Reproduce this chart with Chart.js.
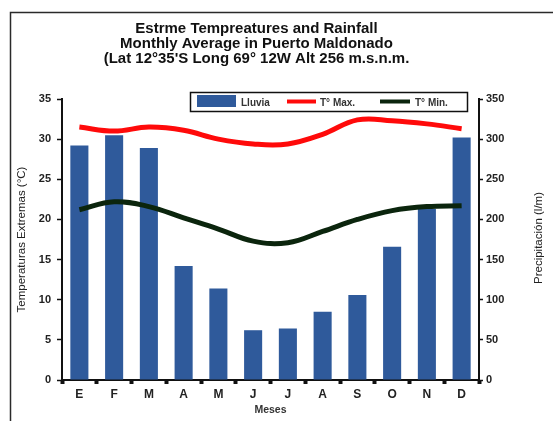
<!DOCTYPE html>
<html>
<head>
<meta charset="utf-8">
<script src="https://cdn.jsdelivr.net/npm/chart.js@4.4.1/dist/chart.umd.min.js"></script>
<style>
  html, body { margin: 0; padding: 0; background: #ffffff; }
  #wrap { width: 553px; height: 421px; }
</style>
</head>
<body>
<div id="wrap"><canvas id="c" width="553" height="421"></canvas></div>
<script>
const months = ['E', 'F', 'M', 'A', 'M', 'J', 'J', 'A', 'S', 'O', 'N', 'D'];
const lluvia = [292, 305, 289, 142, 114, 62, 64, 85, 106, 166, 213, 302];
const tMax = [31.5, 31.0, 31.5, 31.1, 30.0, 29.4, 29.4, 30.6, 32.4, 32.3, 31.9, 31.3];
const tMin = [21.2, 22.2, 21.6, 20.2, 18.8, 17.3, 17.1, 18.5, 20.0, 21.1, 21.6, 21.7];
const titleLines = ['Estrme Tempreatures and Rainfall', 'Monthly Average in Puerto Maldonado', '(Lat 12°35\'S Long 69° 12W Alt 256 m.s.n.m.'];
const legendLabels = ['Lluvia', 'T° Max.', 'T° Min.'];
const leftTitle = 'Temperaturas Extremas (°C)';
const rightTitle = 'Precipitación (l/m)';
const xTitle = 'Meses';

const FONT = '"Liberation Sans", Arial, sans-serif';
const BLUE = '#2F5A9B';
const RED = '#FF0A0A';
const DARK = '#0B250D';

const decor = {
  id: 'decor',
  afterLayout(chart) {
    if (chart.titleBlock) { chart.titleBlock.left -= 26; chart.titleBlock.right -= 26; }
  },
  beforeDraw(chart) {
    const ctx = chart.ctx;
    ctx.save();
    ctx.fillStyle = '#ffffff';
    ctx.fillRect(0, 0, chart.width, chart.height);
    ctx.strokeStyle = '#2a2a2a';
    ctx.lineWidth = 1.5;
    ctx.strokeRect(10.5, 12.5, 800, 800);
    ctx.restore();
  },
  afterDraw(chart) {
    const ctx = chart.ctx;
    ctx.save();
    // legend box
    ctx.fillStyle = '#ffffff';
    ctx.fillRect(190, 92, 277, 19);
    ctx.strokeStyle = '#111';
    ctx.lineWidth = 1.5;
    ctx.strokeRect(190.5, 92.5, 277, 19);
    ctx.fillStyle = BLUE;
    ctx.fillRect(197, 95, 39, 12);
    ctx.strokeStyle = RED; ctx.lineWidth = 4;
    ctx.beginPath(); ctx.moveTo(287, 101.5); ctx.lineTo(316, 101.5); ctx.stroke();
    ctx.strokeStyle = DARK;
    ctx.beginPath(); ctx.moveTo(380, 101.5); ctx.lineTo(410, 101.5); ctx.stroke();
    ctx.fillStyle = '#333';
    ctx.font = 'bold 10px ' + FONT;
    ctx.textBaseline = 'middle';
    ctx.textAlign = 'left';
    ctx.fillText(legendLabels[0], 241, 103);
    ctx.fillText(legendLabels[1], 320, 103);
    ctx.fillText(legendLabels[2], 415, 103);
    // right axis title (reads bottom to top)
    ctx.translate(539, 238);
    ctx.rotate(-Math.PI / 2);
    ctx.font = '11.5px ' + FONT;
    ctx.fillStyle = '#222';
    ctx.textAlign = 'center';
    ctx.fillText(rightTitle, 0, 0);
    ctx.restore();
  }
};

new Chart(document.getElementById('c'), {
  type: 'bar',
  data: {
    labels: months,
    datasets: [
      { type: 'line', label: legendLabels[1], data: tMax, yAxisID: 'y', borderColor: RED, backgroundColor: RED,
        borderWidth: 5, tension: 0.4, pointRadius: 0, order: 1 },
      { type: 'line', label: legendLabels[2], data: tMin, yAxisID: 'y', borderColor: DARK, backgroundColor: DARK,
        borderWidth: 5, tension: 0.4, pointRadius: 0, order: 2 },
      { type: 'bar', label: legendLabels[0], data: lluvia, yAxisID: 'y1', backgroundColor: BLUE,
        barPercentage: 0.52, categoryPercentage: 1.0, order: 3 }
    ]
  },
  options: {
    responsive: false,
    animation: false,
    layout: { padding: { left: 12, right: 0, top: 0, bottom: 0 } },
    plugins: {
      legend: { display: false },
      tooltip: { enabled: false },
      title: {
        display: true,
        text: titleLines,
        color: '#111',
        font: { family: FONT, size: 15, weight: 'bold', lineHeight: 1.0 },
        padding: { top: 21, bottom: 33 }
      }
    },
    scales: {
      x: {
        position: 'bottom',
        border: { color: '#111', width: 2 },
        grid: { drawOnChartArea: false, drawTicks: true, tickLength: 4, tickWidth: 4, tickColor: '#111' },
        ticks: { color: '#222', font: { family: FONT, size: 12, weight: 'bold' }, padding: 3, maxRotation: 0 },
        title: { display: true, text: xTitle, color: '#333', font: { family: FONT, size: 10.5, weight: 'bold' }, padding: { top: 0, bottom: 5 } },
        afterFit(s) { s.height = 41; }
      },
      y: {
        position: 'left',
        min: 0, max: 35,
        border: { color: '#111', width: 2 },
        grid: { drawOnChartArea: false, tickLength: 5, tickWidth: 1.5, tickColor: '#111' },
        ticks: { stepSize: 5, color: '#222', font: { family: FONT, size: 11, weight: 'bold' }, padding: 6 },
        title: { display: true, text: leftTitle, color: '#222', font: { family: FONT, size: 11.5 }, padding: { top: 3, bottom: 0 } },
        afterFit(s) { s.width = 50; }
      },
      y1: {
        position: 'right',
        min: 0, max: 350,
        border: { color: '#111', width: 2 },
        grid: { drawOnChartArea: false, tickLength: 4, tickWidth: 1.5, tickColor: '#111' },
        ticks: { stepSize: 50, color: '#222', font: { family: FONT, size: 11, weight: 'bold' }, padding: 3 },
        afterFit(s) { s.width = 74; }
      }
    }
  },
  plugins: [decor]
});
</script>
</body>
</html>
